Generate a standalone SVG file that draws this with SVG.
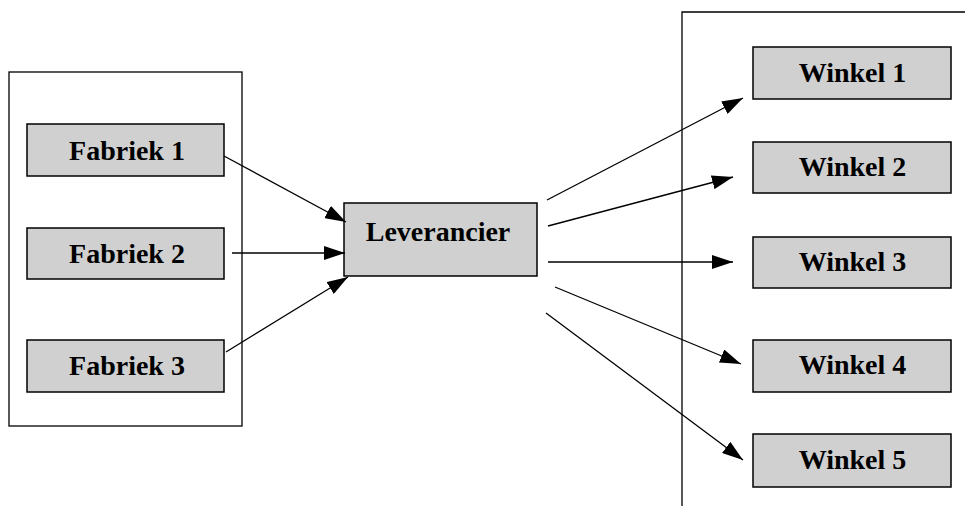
<svg xmlns="http://www.w3.org/2000/svg" width="965" height="506" viewBox="0 0 965 506">
<defs>
<style>
.box{fill:#d0d0d0;stroke:#000;stroke-width:1.5}
.frame{fill:none;stroke:#000;stroke-width:1.3}
.lbl{font-family:"Liberation Serif","Times New Roman",serif;font-weight:bold;font-size:28px;text-anchor:middle;fill:#000}
.edge{stroke:#000;stroke-width:1.3;fill:none;marker-end:url(#ah)}
</style>
<marker id="ah" markerUnits="userSpaceOnUse" markerWidth="22" markerHeight="14" refX="21" refY="7" orient="auto">
<path d="M0,0 L21,7 L0,14 Z" fill="#000"/>
</marker>
</defs>
<rect width="965" height="506" fill="#fff"/>
<g id="frames">
<rect class="frame" x="9" y="72" width="233" height="354"/>
<path class="frame" d="M966,12 H682 V507"/>
</g>
<g id="fabriek1"><rect class="box" x="27" y="124" width="197" height="52"/><text class="lbl" x="127" y="160">Fabriek 1</text></g>
<g id="fabriek2"><rect class="box" x="27" y="228" width="197" height="51"/><text class="lbl" x="127" y="263">Fabriek 2</text></g>
<g id="fabriek3"><rect class="box" x="27" y="340" width="197" height="52"/><text class="lbl" x="127" y="375">Fabriek 3</text></g>
<g id="leverancier"><rect class="box" x="344" y="203" width="193" height="73"/><text class="lbl" x="438" y="241">Leverancier</text></g>
<g id="winkel1"><rect class="box" x="753" y="47" width="198" height="52"/><text class="lbl" x="852.5" y="82">Winkel 1</text></g>
<g id="winkel2"><rect class="box" x="753" y="142" width="198" height="51"/><text class="lbl" x="852.5" y="176">Winkel 2</text></g>
<g id="winkel3"><rect class="box" x="753" y="237" width="198" height="51"/><text class="lbl" x="852.5" y="271">Winkel 3</text></g>
<g id="winkel4"><rect class="box" x="753" y="340" width="198" height="52"/><text class="lbl" x="852.5" y="374">Winkel 4</text></g>
<g id="winkel5"><rect class="box" x="753" y="434" width="198" height="53"/><text class="lbl" x="852.5" y="469">Winkel 5</text></g>
<g id="connectors">
<line class="edge" x1="224" y1="156" x2="346" y2="222"/>
<line class="edge" x1="232" y1="253" x2="345" y2="253"/>
<line class="edge" x1="226" y1="352" x2="348" y2="277"/>
<line class="edge" x1="547" y1="200" x2="743" y2="98"/>
<line class="edge" x1="548" y1="226" x2="733" y2="177"/>
<line class="edge" x1="548" y1="262" x2="733" y2="262"/>
<line class="edge" x1="555" y1="287" x2="741" y2="364"/>
<line class="edge" x1="546" y1="313" x2="743" y2="460"/>
</g>
</svg>
